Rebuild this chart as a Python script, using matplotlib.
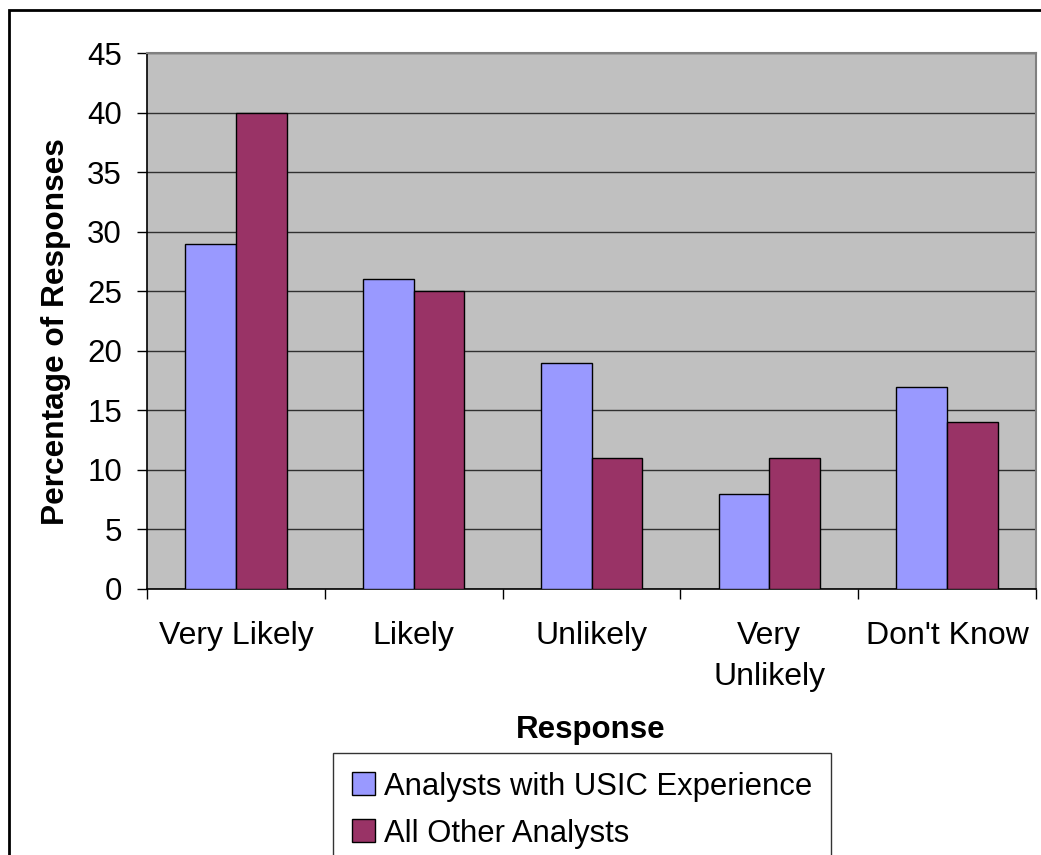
import matplotlib
matplotlib.use("Agg")
import matplotlib.pyplot as plt
from matplotlib.patches import Rectangle
import numpy as np

plt.rcParams['font.family'] = ['Liberation Sans', 'DejaVu Sans']

categories = ["Very Likely", "Likely", "Unlikely", "Very\nUnlikely", "Don't Know"]
usic = [29, 26, 19, 8, 17]
others = [40, 25, 11, 11, 14]
series_names = ["Analysts with USIC Experience", "All Other Analysts"]
yticks = [0, 5, 10, 15, 20, 25, 30, 35, 40, 45]

W, H = 1041, 855
fig = plt.figure(figsize=(W / 100, H / 100), dpi=100)
ax = fig.add_axes([147 / W, 1 - 589 / H, (1036 - 147) / W, (589 - 53) / H])
ax.set_facecolor('#C0C0C0')

x = np.arange(len(categories))
bw = 0.285
b1 = ax.bar(x - bw / 2, usic, bw, color='#9999FF', edgecolor='black', linewidth=1.0, zorder=3,
            label=series_names[0])
b2 = ax.bar(x + bw / 2, others, bw, color='#993366', edgecolor='black', linewidth=1.0, zorder=3,
            label=series_names[1])

ax.set_xlim(-0.5, len(categories) - 0.5)
ax.set_ylim(0, 45)
ax.set_yticks(yticks)
ax.yaxis.grid(True, color='#303030', linewidth=1.0, zorder=1)
ax.set_axisbelow(True)

# x: major ticks at boundaries (no labels), minor ticks at centers with labels
ax.set_xticks(np.arange(-0.5, len(categories) + 0.5, 1.0))
ax.set_xticklabels([])
ax.set_xticks(x, minor=True)
ax.set_xticklabels(categories, minor=True, fontsize=23, linespacing=1.5)
ax.tick_params(axis='x', which='major', direction='out', length=7, width=1, color='black')
ax.tick_params(axis='x', which='minor', length=0, pad=23)
ax.tick_params(axis='y', direction='out', length=7, width=1, labelsize=22.5, pad=11)

for s in ['top', 'right']:
    ax.spines[s].set_color('#808080')
    ax.spines[s].set_linewidth(1.5)
for s in ['left', 'bottom']:
    ax.spines[s].set_color('black')
    ax.spines[s].set_linewidth(1.2)

fig.text(591 / W, 1 - 730 / H, "Response", fontsize=22.5, fontweight='bold', ha='center', va='center')
fig.text(56 / W, 1 - 332 / H, "Percentage of Responses", fontsize=22.8, fontweight='bold',
         ha='center', va='center', rotation=90)

leg = fig.legend(handles=[b1, b2], labels=series_names, loc='upper left',
                 bbox_to_anchor=(333 / W, 1 - 753 / H), fontsize=22.3, frameon=True,
                 fancybox=False, edgecolor='black', handlelength=0.75, handleheight=0.75,
                 handletextpad=0.3, borderpad=0.6, labelspacing=0.55, borderaxespad=0)
leg.get_frame().set_linewidth(1.0)

# outer chart border
fig.patches.append(Rectangle((9 / W, -0.05), 1.1, 1 - 10 / H + 0.05, transform=fig.transFigure,
                             fill=False, edgecolor='black', linewidth=2, zorder=0))

fig.savefig("out.png", dpi=100)
